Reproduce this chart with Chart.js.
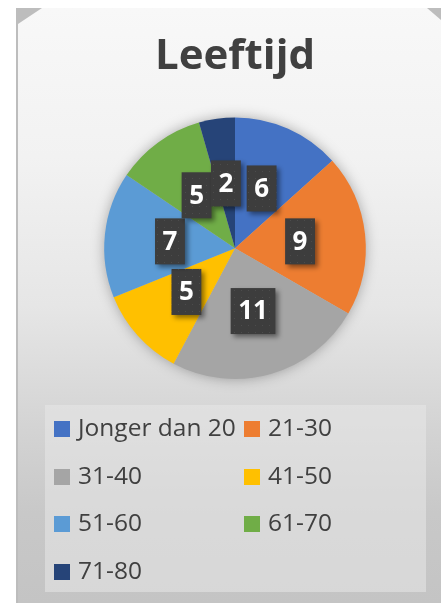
<!DOCTYPE html>
<html>
<head>
<meta charset="utf-8">
<script src="https://cdn.jsdelivr.net/npm/chart.js@4.4.1/dist/chart.umd.min.js"></script>
<style>
  html, body { margin: 0; padding: 0; background: #ffffff; }
  #card {
    position: absolute; left: 16px; top: 8px; width: 425px; height: 595px;
    background: #bdbdbd;
  }
  #panel {
    position: absolute; left: 2px; top: 0; right: 0; bottom: 0;
    background: linear-gradient(to bottom, #f8f8f8 0%, #f2f2f2 25%, #e6e6e6 50%, #d4d4d4 70%, #c8c8c8 85%, #c4c4c4 100%);
    clip-path: polygon(24px 0, calc(100% - 14px) 0, 100% 12px, 100% 100%, 0 100%, 0 16px);
  }
  #wrap { position: absolute; left: 0; top: 0; width: 441px; height: 603px; }
</style>
</head>
<body>
<div id="card"><div id="panel"></div></div>
<div id="wrap"><canvas id="leeftijd" width="441" height="603"></canvas></div>
<script>
// leeftijdscategorieen en aantallen
const categories = ["Jonger dan 20", "21-30", "31-40", "41-50", "51-60", "61-70", "71-80"];
const counts = [6, 9, 11, 5, 7, 5, 2];
const sliceColors = ["#4472C4", "#ED7D31", "#A5A5A5", "#FFC000", "#5B9BD5", "#70AD47", "#264478"];

// dotted dark fill for the label boxes
function makeDotPattern(ctx) {
  const p = document.createElement("canvas");
  p.width = 7;
  p.height = 7;
  const pc = p.getContext("2d");
  pc.fillStyle = "#3d3d3d";
  pc.fillRect(0, 0, 7, 7);
  pc.fillStyle = "#4c4c4c";
  pc.fillRect(3, 3, 1, 1);
  return ctx.createPattern(p, "repeat");
}

const pieShadow = {
  id: "pieShadow",
  beforeDatasetsDraw(chart) {
    const arc = chart.getDatasetMeta(0).data[0];
    if (!arc) return;
    const ctx = chart.ctx;
    ctx.save();
    ctx.shadowColor = "rgba(0,0,0,0.35)";
    ctx.shadowBlur = 14;
    ctx.fillStyle = "#bbbbbb";
    ctx.beginPath();
    ctx.arc(arc.x, arc.y, arc.outerRadius - 1, 0, Math.PI * 2);
    ctx.fill();
    ctx.restore();
  }
};

const boxLabels = {
  id: "boxLabels",
  afterDatasetsDraw(chart) {
    const ctx = chart.ctx;
    const meta = chart.getDatasetMeta(0);
    const pattern = makeDotPattern(ctx);
    ctx.save();
    ctx.font = "bold 26px 'Open Sans'";
    ctx.textAlign = "center";
    ctx.textBaseline = "middle";
    meta.data.forEach((arc, i) => {
      const pos = arc.getCenterPoint();
      const txt = String(chart.data.datasets[0].data[i]);
      const w = ctx.measureText(txt).width + 15;
      const h = 46;
      ctx.save();
      ctx.shadowColor = "rgba(0,0,0,0.45)";
      ctx.shadowBlur = 5;
      ctx.shadowOffsetX = 3;
      ctx.shadowOffsetY = 3;
      ctx.fillStyle = pattern;
      ctx.fillRect(pos.x - w / 2, pos.y - h / 2, w, h);
      ctx.restore();
      ctx.fillStyle = "#ffffff";
      ctx.fillText(txt, pos.x, pos.y + 1);
    });
    ctx.restore();
  }
};

// legend in a light box, two columns
const boxLegend = {
  id: "boxLegend",
  afterDraw(chart) {
    const ctx = chart.ctx;
    ctx.save();
    ctx.fillStyle = "rgba(232,232,232,0.55)";
    ctx.fillRect(45, 405, 381, 187);
    ctx.font = "24.5px 'Open Sans'";
    ctx.textBaseline = "middle";
    ctx.textAlign = "left";
    const colX = [54, 244];
    const rowY = [429, 477, 524, 572];
    chart.data.labels.forEach((lab, i) => {
      const x = colX[i % 2];
      const y = rowY[Math.floor(i / 2)];
      ctx.fillStyle = chart.data.datasets[0].backgroundColor[i];
      ctx.fillRect(x, y - 8, 16, 16);
      ctx.fillStyle = "#404040";
      ctx.fillText(lab, x + 24, y);
    });
    ctx.restore();
  }
};

new Chart(document.getElementById("leeftijd"), {
  type: "pie",
  plugins: [pieShadow, boxLabels, boxLegend],
  data: {
    labels: categories,
    datasets: [{
      label: "Leeftijd",
      data: counts,
      backgroundColor: sliceColors,
      borderWidth: 0
    }]
  },
  options: {
    responsive: false,
    animation: false,
    layout: {
      padding: { top: 0, left: 104, right: 75, bottom: 224 }
    },
    plugins: {
      legend: { display: false },
      tooltip: { enabled: false },
      title: {
        display: true,
        text: "Leeftijd",
        color: "#404040",
        font: { family: "'Open Sans'", size: 42, weight: "bold", lineHeight: 1.2 },
        padding: { top: 32, bottom: 35 }
      }
    }
  }
});
</script>
</body>
</html>
